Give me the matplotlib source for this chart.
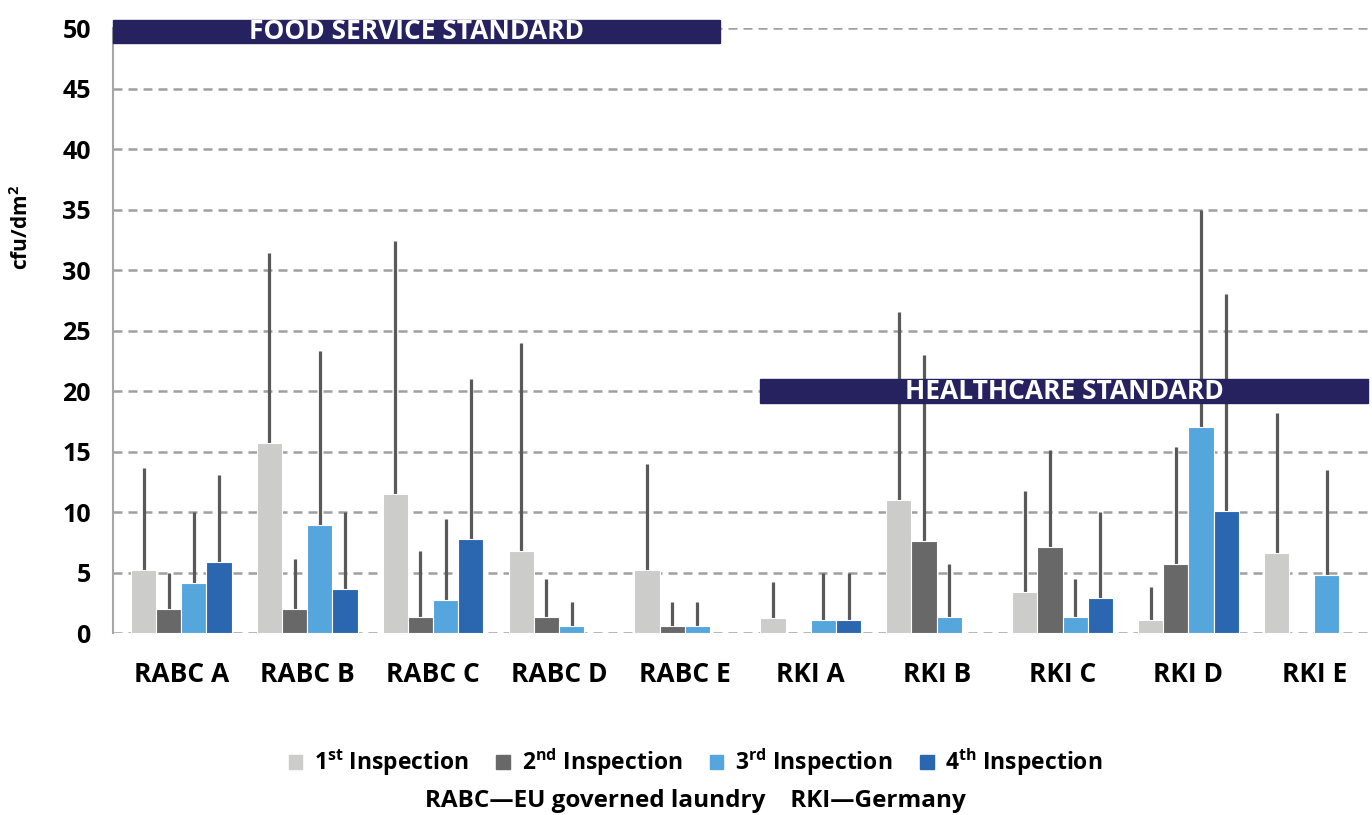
import numpy as np
import matplotlib
matplotlib.use("Agg")
import matplotlib.pyplot as plt
from matplotlib.patches import Rectangle, Patch

plt.rcParams['font.family'] = ['Open Sans', 'DejaVu Sans']
plt.rcParams['font.weight'] = 'bold'
plt.rcParams['mathtext.fontset'] = 'custom'
plt.rcParams['mathtext.rm'] = 'Open Sans'
plt.rcParams['mathtext.bf'] = 'Open Sans:bold'

# data (cfu/dm2), mean and top of error bar
sites = ["RABC A", "RABC B", "RABC C", "RABC D", "RABC E",
         "RKI A", "RKI B", "RKI C", "RKI D", "RKI E"]
insp1 = [5.2, 15.7, 11.5, 6.8, 5.2, 1.2, 11.0, 3.4, 1.1, 6.6]
insp1_top = [13.6, 31.4, 32.4, 24.0, 14.0, 4.2, 26.5, 11.7, 3.8, 18.2]
insp2 = [2.0, 2.0, 1.3, 1.3, 0.6, np.nan, 7.6, 7.1, 5.7, np.nan]
insp2_top = [5.0, 6.1, 6.8, 4.5, 2.6, np.nan, 23.0, 15.1, 15.4, np.nan]
insp3 = [4.1, 8.9, 2.7, 0.6, 0.6, 1.1, 1.3, 1.3, 17.0, 4.8]
insp3_top = [10.0, 23.3, 9.4, 2.6, 2.6, 5.0, 5.7, 4.5, 35.0, 13.5]
insp4 = [5.9, 3.6, 7.8, np.nan, np.nan, 1.1, np.nan, 2.9, 10.1, np.nan]
insp4_top = [13.1, 10.0, 21.0, np.nan, np.nan, 5.0, np.nan, 10.0, 28.0, np.nan]

labels = ["1$^{\\mathbf{st}}$ Inspection", "2$^{\\mathbf{nd}}$ Inspection",
          "3$^{\\mathbf{rd}}$ Inspection", "4$^{\\mathbf{th}}$ Inspection"]
colors = ["#CCCCCA", "#686868", "#55A6DD", "#2B67B1"]

food_std = 50
health_std = 20

fig = plt.figure(figsize=(13.72, 8.15), dpi=100)
ax = fig.add_axes([0.0824, 0.2233, 0.915, 0.7423])

x = np.arange(len(sites))
w = 0.2
series = [(insp1, insp1_top), (insp2, insp2_top), (insp3, insp3_top), (insp4, insp4_top)]
for i, (vals, tops) in enumerate(series):
    vals = np.array(vals, dtype=float)
    tops = np.array(tops, dtype=float)
    pos = x + (i - 1.5) * w
    ax.bar(pos, vals, w, color=colors[i], edgecolor="white", linewidth=0.8, zorder=3)
    ax.vlines(pos, vals, tops, color="#595959", linewidth=2.3, zorder=2)

x0, x1 = -0.542, 9.43
ax.set_xlim(x0, x1)
ax.set_ylim(0, 50)
ax.set_yticks(np.arange(0, 51, 5))
ax.set_xticks(x)
ax.set_xticklabels(sites)
ax.tick_params(axis="y", length=0, pad=16, labelsize=18)
ax.tick_params(axis="x", length=0, pad=20, labelsize=19)
ax.yaxis.grid(True, color="#A0A0A0", linestyle=(0, (3.6, 2.4)), linewidth=1.8, zorder=0)
ax.set_axisbelow(True)
for s in ["top", "right", "bottom"]:
    ax.spines[s].set_visible(False)
ax.spines["left"].set_color("#A6A6A6")
ax.spines["left"].set_linewidth(1.5)

ax.text(-1.27, 33.5, "cfu/dm$^{\\mathbf{2}}$", rotation=90, fontsize=15,
        ha="center", va="center")

# standard banners
navy = "#26215F"
food_end = 4.28
ax.add_patch(Rectangle((x0, food_std - 1.2), food_end - x0, 1.9, color=navy,
                       clip_on=False, zorder=5))
ax.text((x0 + food_end) / 2, food_std - 0.25, "FOOD SERVICE STANDARD", color="white",
        fontsize=19, ha="center", va="center", zorder=6)
health_start = 4.6
ax.add_patch(Rectangle((health_start, health_std - 1.0), x1 - health_start, 2.0,
                       color=navy, clip_on=False, zorder=5))
ax.text((health_start + x1) / 2, health_std, "HEALTHCARE STANDARD", color="white",
        fontsize=19, ha="center", va="center", zorder=6)

handles = [Patch(color=c) for c in colors]
fig.legend(handles, labels, loc="center", bbox_to_anchor=(0.507, 0.065), ncol=4,
           frameon=False, fontsize=16.5, handlelength=0.6, handleheight=0.6,
           handletextpad=0.5, columnspacing=1.2)
fig.text(0.507, 0.017, "RABC\u2014EU governed laundry    RKI\u2014Germany",
         ha="center", va="center", fontsize=17.5)

fig.savefig("out.png", dpi=100)
